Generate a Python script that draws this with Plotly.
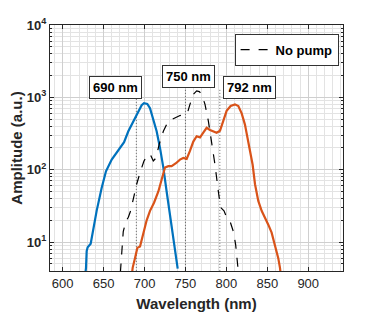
import math
import plotly.graph_objects as go

# pumped spectra and reference (no pump)
blue_x = [627.5, 628.5, 629.3, 630.5, 634.2, 636.6, 641.5, 647.6, 652.9, 659.9, 668.0, 675.0,
          680.2, 686.3, 692.4, 696.5, 699.3, 703.4, 706.7, 710.7, 714.8, 718.9, 723.0, 727.0,
          731.1, 735.2, 738.4, 740.5]
blue_y = [3.5, 4.4, 7.5, 8.5, 9.5, 14, 27, 56, 95, 138, 190, 240,
          340, 470, 650, 780, 830, 810, 710, 510, 340, 200, 107, 50,
          24, 11.5, 6.5, 4.3]

black_x = [670.5, 672.0, 674.0, 677.4, 680.2, 683.0, 686.3, 690.4, 694.5, 699.3, 704.6, 707.5,
           710.7, 714.0, 718.0, 723.0, 729.0, 735.2, 743.3, 749.4, 752.3, 755.5, 759.6, 763.7,
           766.9, 769.8, 773.9, 778.0, 782.0, 786.1, 790.2, 793.0, 797.1, 800.3, 804.4, 808.5,
           811.3, 813.4, 814.5]
black_y = [3.8, 6.8, 14, 19.5, 22, 27, 41, 63, 91, 132, 165, 158,
           132, 145, 225, 340, 470, 510, 560, 590, 600, 800, 1100, 1230,
           1200, 1100, 800, 470, 245, 117, 50, 30, 27, 22, 19.5, 14,
           9.3, 5.5, 4.0]

orange_x = [684.5, 685.5, 688.4, 691.2, 694.5, 698.5, 702.6, 706.7, 711.6, 716.9, 720.9, 725.0,
            729.1, 733.1, 738.4, 743.3, 747.4, 751.5, 755.5, 759.6, 763.7, 767.8, 771.8, 775.9,
            780.0, 784.0, 788.1, 792.2, 796.3, 800.3, 805.2, 810.5, 814.6, 818.7, 822.7, 826.8,
            832.1, 835.0, 839.0, 843.1, 847.1, 851.2, 855.3, 858.1, 861.4, 863.4, 865.5, 866.5]
orange_y = [3.5, 4.4, 6.0, 8.3, 8.7, 13, 20, 27, 35, 50, 72, 107,
            112, 112, 123, 138, 145, 141, 182, 245, 290, 280, 325, 380,
            355, 340, 325, 345, 470, 650, 760, 800, 760, 600, 420, 245,
            117, 63, 37, 27, 22, 17.4, 13.5, 10.2, 7.6, 6.0, 4.4, 3.5]

peak_nm = [690, 750, 792]
peak_top = [1000, 1300, 1300]
peak_labels = ["690 nm", "750 nm", "792 nm"]
label_x = [665, 753.6, 828.8]
label_y = [1365, 1935, 1365]

blue = "#0072BD"
orange = "#D95319"
font = "Liberation Sans, Arial, sans-serif"

fig = go.Figure()

for nm, top in zip(peak_nm, peak_top):
    fig.add_trace(go.Scatter(
        x=[nm, nm], y=[3, top], mode="lines",
        line=dict(color="#444444", width=0.8, dash="1px,2px"),
        showlegend=False, hoverinfo="skip"
    ))

fig.add_trace(go.Scatter(
    x=blue_x, y=blue_y, mode="lines",
    line=dict(color=blue, width=2.2), showlegend=False
))

fig.add_trace(go.Scatter(
    x=black_x, y=black_y, mode="lines", name="<b>No pump</b>",
    line=dict(color="black", width=1.2, dash="dash")
))

fig.add_trace(go.Scatter(
    x=orange_x, y=orange_y, mode="lines",
    line=dict(color=orange, width=2.2), showlegend=False
))

for text, lx, ly in zip(peak_labels, label_x, label_y):
    fig.add_annotation(
        x=lx, y=math.log10(ly), yref="y", xref="x",
        text="<b>" + text + "</b>", showarrow=False,
        font=dict(family=font, size=13, color="black"),
        bgcolor="white", bordercolor="#333333", borderwidth=1, borderpad=3
    )

grid = "#cfcfcf"

# the page adds an 8px body margin, so the plot is nudged up-left to compensate
fig.update_layout(
    width=380, height=323,
    margin=dict(l=42, r=45, t=17, b=60, autoexpand=False),
    paper_bgcolor="white", plot_bgcolor="white",
    font=dict(family=font, size=12, color="#262626"),
    legend=dict(
        x=0.985, y=0.965, xanchor="right", yanchor="top",
        bgcolor="white", bordercolor="#333333", borderwidth=1,
        font=dict(family=font, size=13, color="black"),
        itemwidth=30, tracegroupgap=0
    ),
    xaxis=dict(
        range=[584.5, 942.5], tickvals=[600, 650, 700, 750, 800, 850, 900],
        ticks="inside", ticklen=4, tickcolor="#262626",
        showgrid=True, gridcolor=grid, gridwidth=1,
        minor=dict(dtick=10, showgrid=True, gridcolor="#e3e3e3", ticks=""),
        showline=True, linecolor="#262626", linewidth=1, mirror="ticks",
        zeroline=False, automargin=False,
        tickfont=dict(family=font, size=13, color="#262626"),
        title=dict(text="<b>Wavelength (nm)</b>", font=dict(family=font, size=15, color="#262626"), standoff=8)
    ),
    yaxis=dict(
        type="log", range=[0.6, 4],
        tickvals=[10, 100, 1000, 10000],
        ticktext=["<b>10<sup>1</sup></b>", "<b>10<sup>2</sup></b>", "<b>10<sup>3</sup></b>", "<b>10<sup>4</sup></b>"],
        ticks="inside", ticklen=4, tickcolor="#262626",
        showgrid=True, gridcolor=grid, gridwidth=1,
        minor=dict(dtick="D1", showgrid=True, gridcolor="#e3e3e3", ticks="inside", ticklen=2),
        showline=True, linecolor="#262626", linewidth=1, mirror="ticks",
        zeroline=False, automargin=False,
        tickfont=dict(family=font, size=13, color="#262626"),
        title=dict(text="<b>Amplitude (a.u.)</b>", font=dict(family=font, size=15, color="#262626"), standoff=6)
    )
)

fig.update_xaxes(tickprefix="<b>", ticksuffix="</b>")

fig.write_html("out.html")
